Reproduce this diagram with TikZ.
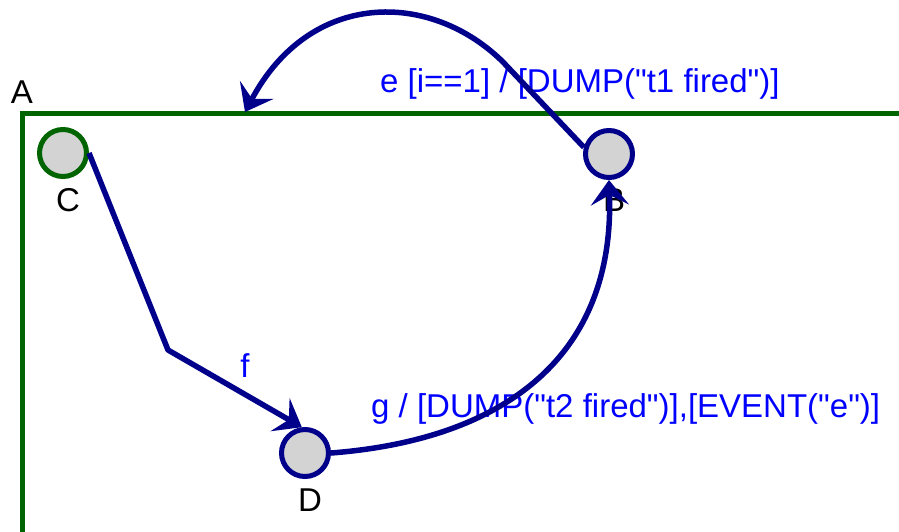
\documentclass[tikz,border=0pt]{standalone}
\usepackage{fontspec}
\newfontfamily\lblfont{Liberation Sans}
\usetikzlibrary{arrows.meta}
\definecolor{frameGreen}{RGB}{0,100,0}
\definecolor{edgeNavy}{RGB}{0,0,139}
\definecolor{lblBlue}{RGB}{0,0,255}
\definecolor{stateFill}{RGB}{211,211,211}
\begin{document}
\begin{tikzpicture}[x=1pt,y=-1pt,
  state/.style={circle, draw=edgeNavy, fill=stateFill, line width=5pt, minimum size=47pt, inner sep=0pt},
  txt/.style={font=\lblfont\fontsize{33}{40}\selectfont, inner sep=0pt},
  edgelbl/.style={txt, text=lblBlue},
  trans/.style={draw=edgeNavy, line width=5.5pt, line join=round, -{Stealth[length=25pt,width=38pt,inset=10pt]}},
]
\useasboundingbox (0,0) rectangle (899,531);
\clip (0,0) rectangle (899,531);
\draw[frameGreen, line width=5pt] (22,545) |- (915,113);
\node[txt] (lblA) at (22,92) {A};
\node[state, draw=frameGreen] (C) at (63,153) {};
\node[state] (B) at (609,154) {};
\node[state] (D) at (305,453) {};
\node[txt] (lC) at (68,200) {C};
\node[txt] (lB) at (614,200) {B};
\node[txt] (lD) at (310,500) {D};
\node[edgelbl, anchor=base west] (le) at (380,92) {e [i==1] / [DUMP("t1 fired")]};
\node[edgelbl, anchor=base west] (lg) at (371,417) {g / [DUMP("t2 fired")],[EVENT("e")]};
\node[edgelbl] (lf) at (245,366) {f};
\coordinate (k1) at (168,350);
\coordinate (k2) at (503,62);
\coordinate (a1) at (245,112);
\draw[trans] (C.east) -- (k1) -- (D.97);
\draw[trans] (D.east) .. controls (500,440) and (615,360) .. (B.south);
\draw[trans] (B.165) -- (k2) .. controls (430,-10) and (310,-10) .. (a1);
\end{tikzpicture}
\end{document}
